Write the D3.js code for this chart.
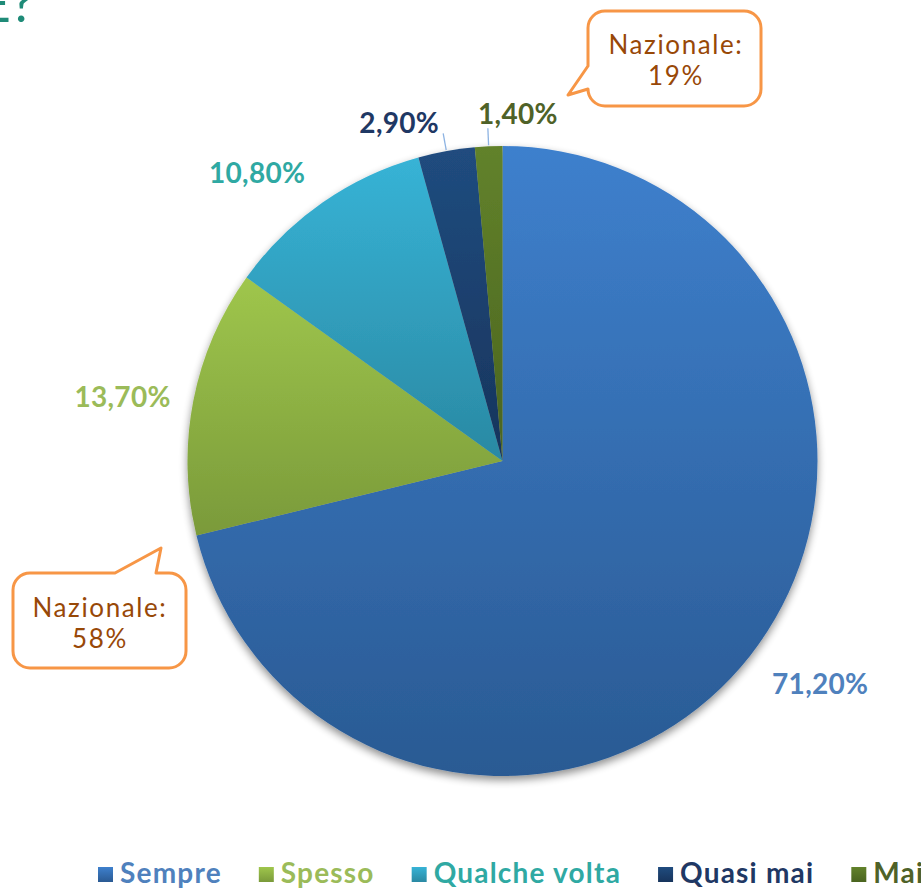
<!DOCTYPE html>
<html>
<head>
<meta charset="utf-8">
<script src="https://cdn.jsdelivr.net/npm/d3@7"></script>
<style>
  html, body { margin: 0; padding: 0; background: #ffffff; }
  svg { display: block; }
</style>
</head>
<body>
<svg id="chart" width="921" height="892"></svg>
<script>
// ---------- data ----------
const categories   = ["Sempre", "Spesso", "Qualche volta", "Quasi mai", "Mai"];
const values       = [71.2, 13.7, 10.8, 2.9, 1.4];
const valueLabels  = ["71,20%", "13,70%", "10,80%", "2,90%", "1,40%"];
const topColors    = ["#3e80cd", "#9fc64c", "#37b3d6", "#204c7f", "#62822b"];
const bottomColors = ["#2a5a93", "#7a9a3a", "#2a89a3", "#17345c", "#4a641f"];
const textColors   = ["#4f81bd", "#9bbb59", "#2fa9a3", "#1f3864", "#4f6228"];
const calloutTexts = [["Nazionale:", "19%"], ["Nazionale:", "58%"]];
const titleFragment = "E?";

// ---------- layout ----------
const W = 921, H = 892;
const cx = 502.5, cy = 461, R = 315;
const labelR = R + 70;
const labelNudge = [[15, -16], [-2, 8], [-25, 27], [-44, -11], [30, -15]];
const smallThreshold = 5;
const FONT = "'Lato', 'DejaVu Sans', sans-serif";

const svg = d3.select("#chart");
const defs = svg.append("defs");

// gradients
categories.forEach((c, i) => {
  const g = defs.append("linearGradient")
    .attr("id", "grad" + i)
    .attr("x1", 0).attr("y1", 0).attr("x2", 0).attr("y2", 1);
  g.append("stop").attr("offset", "0%").attr("stop-color", topColors[i]);
  g.append("stop").attr("offset", "100%").attr("stop-color", bottomColors[i]);
});

// shadow
const f = defs.append("filter").attr("id", "shadow")
  .attr("x", "-10%").attr("y", "-10%").attr("width", "120%").attr("height", "125%");
f.append("feGaussianBlur").attr("in", "SourceAlpha").attr("stdDeviation", 4).attr("result", "b");
f.append("feOffset").attr("in", "b").attr("dx", 0).attr("dy", 4).attr("result", "o");
f.append("feComponentTransfer").attr("in", "o").attr("result", "s")
  .append("feFuncA").attr("type", "linear").attr("slope", 0.45);
const fm = f.append("feMerge");
fm.append("feMergeNode").attr("in", "s");
fm.append("feMergeNode").attr("in", "SourceGraphic");

// title fragment (cut off at top, as in the reference)
svg.append("text")
  .attr("x", 34).attr("y", 22)
  .attr("text-anchor", "end")
  .attr("font-family", FONT)
  .attr("font-size", 52)
  .attr("fill", "#1f8b78")
  .text(titleFragment);

// pie
const data = categories.map((c, i) => ({ c, v: values[i], i }));
const pie = d3.pie().value(d => d.v).sort(null);
const arcs = pie(data);
const arc = d3.arc().innerRadius(0).outerRadius(R);

const g = svg.append("g").attr("transform", `translate(${cx},${cy})`);
const pieG = g.append("g").attr("filter", "url(#shadow)");
pieG.selectAll("path")
  .data(arcs)
  .join("path")
  .attr("d", arc)
  .attr("fill", d => `url(#grad${d.data.i})`);

const polar = (a, r) => [r * Math.sin(a), -r * Math.cos(a)];

// labels
arcs.forEach(d => {
  const i = d.data.i;
  const mid = (d.startAngle + d.endAngle) / 2;
  let base;
  if (d.data.v < smallThreshold) {
    const p1 = polar(mid, R + 1), p2 = polar(mid, R + 18);
    g.append("line")
      .attr("x1", p1[0]).attr("y1", p1[1]).attr("x2", p2[0]).attr("y2", p2[1])
      .attr("stroke", "#8db3e2").attr("stroke-width", 1.3);
    base = p2;
  } else {
    base = polar(mid, labelR);
  }
  g.append("text")
    .attr("x", base[0] + labelNudge[i][0])
    .attr("y", base[1] + labelNudge[i][1])
    .attr("text-anchor", "middle")
    .attr("dominant-baseline", "central")
    .attr("font-family", FONT)
    .attr("font-weight", "bold")
    .attr("font-size", 28)
    .attr("letter-spacing", 0.3)
    .attr("fill", textColors[i])
    .text(valueLabels[i]);
});

// callouts
function callout(x0, y0, x1, y1, r, tail, lines, tx, ty) {
  const p = d3.path();
  p.moveTo(x0 + r, y0);
  if (tail.side === "top") {
    p.lineTo(tail.a, y0); p.lineTo(tail.px, tail.py); p.lineTo(tail.b, y0);
  }
  p.lineTo(x1 - r, y0);
  p.arcTo(x1, y0, x1, y0 + r, r);
  p.lineTo(x1, y1 - r);
  p.arcTo(x1, y1, x1 - r, y1, r);
  p.lineTo(x0 + r, y1);
  p.arcTo(x0, y1, x0, y1 - r, r);
  if (tail.side === "left") {
    p.lineTo(x0, tail.b); p.lineTo(tail.px, tail.py); p.lineTo(x0, tail.a);
  }
  p.lineTo(x0, y0 + r);
  p.arcTo(x0, y0, x0 + r, y0, r);
  p.closePath();
  svg.append("path").attr("d", p.toString())
    .attr("fill", "#ffffff").attr("stroke", "#f79646").attr("stroke-width", 3)
    .attr("stroke-linejoin", "round");
  lines.forEach((t, k) => {
    svg.append("text")
      .attr("x", tx).attr("y", ty + k * 31)
      .attr("text-anchor", "middle")
      .attr("font-family", FONT)
      .attr("font-size", 26)
      .attr("letter-spacing", 1.6)
      .attr("fill", "#984807")
      .text(t);
  });
}
callout(588, 11, 761, 106, 17, { side: "left", a: 66, b: 89, px: 568, py: 95 }, calloutTexts[0], 676, 54);
callout(13, 573, 186, 668, 17, { side: "top", a: 115, b: 156, px: 161, py: 548 }, calloutTexts[1], 100, 617);

// legend
const legend = svg.append("g");
let lx = 98;
const legendY = 883;
categories.forEach((c, i) => {
  legend.append("rect")
    .attr("x", lx).attr("y", legendY - 16).attr("width", 15).attr("height", 15)
    .attr("fill", `url(#grad${i})`);
  const t = legend.append("text")
    .attr("x", lx + 22).attr("y", legendY)
    .attr("font-family", FONT)
    .attr("font-weight", "bold")
    .attr("font-size", 28)
    .attr("letter-spacing", 1.2)
    .attr("fill", textColors[i])
    .text(c);
  lx += 22 + t.node().getComputedTextLength() + 37;
});
</script>
</body>
</html>
